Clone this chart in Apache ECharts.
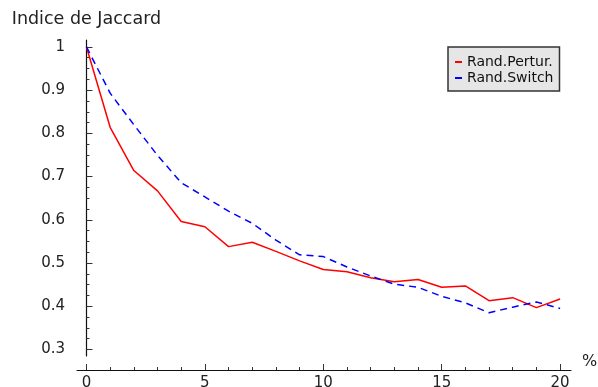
<!DOCTYPE html>
<html>
<head>
<meta charset="utf-8">
<script src="https://cdn.jsdelivr.net/npm/echarts@6/dist/echarts.min.js"></script>
<style>
  html, body { margin: 0; padding: 0; background: #fff; }
  #chart { width: 598px; height: 387px; }
</style>
</head>
<body>
<div id="chart"></div>
<script>
// Jaccard index versus perturbation percentage
const percents = [0,1,2,3,4,5,6,7,8,9,10,11,12,13,14,15,16,17,18,19,20];
const randPertur = [1.0,0.814,0.714,0.667,0.596,0.584,0.538,0.548,0.527,0.505,0.485,0.480,0.466,0.457,0.462,0.444,0.447,0.413,0.420,0.397,0.417];
const randSwitch = [1.0,0.893,0.820,0.749,0.686,0.653,0.620,0.592,0.553,0.519,0.515,0.491,0.470,0.451,0.444,0.423,0.408,0.385,0.398,0.410,0.395];

// Tick positions
const yMajor = [0.3,0.4,0.5,0.6,0.7,0.8,0.9,1.0];
const yMinor = [0.325,0.35,0.375,0.425,0.45,0.475,0.525,0.55,0.575,0.625,0.65,0.675,0.725,0.75,0.775,0.825,0.85,0.875,0.925,0.95,0.975];
const xMajor = [0,5,10,15,20];
const xMinor = [1,2,3,4,6,7,8,9,11,12,13,14,16,17,18,19];

const FONT = 'DejaVu Sans';
const Y_MIN = 0.285, Y_MAX = 1.016;
const X_MIN = -0.4, X_MAX = 20.46;

const chart = echarts.init(document.getElementById('chart'), null, { renderer: 'canvas' });

const axisLineStyle = { color: '#111', width: 1.2 };
const tickStyle = { color: '#333', width: 1 };

chart.setOption({
  animation: false,
  backgroundColor: '#fff',
  textStyle: { fontFamily: FONT },
  grid: { left: 77, right: 27, top: 40, bottom: 31, containLabel: false, outerBoundsMode: 'none' },
  legend: {
    orient: 'vertical',
    left: 448,
    top: 47,
    padding: [7, 6, 5, 7],
    backgroundColor: '#e6e6e6',
    borderColor: '#333',
    borderWidth: 1.5,
    borderRadius: 0,
    itemWidth: 7,
    itemHeight: 2,
    itemGap: 0,
    icon: 'rect',
    textStyle: { fontFamily: FONT, fontSize: 14, lineHeight: 16, color: '#111' },
    data: ['Rand.Pertur.', 'Rand.Switch']
  },
  xAxis: [
    {
      type: 'value', min: X_MIN, max: X_MAX, position: 'bottom', offset: 14,
      name: '%', nameLocation: 'end', nameGap: 11,
      nameTextStyle: { fontFamily: FONT, fontSize: 16, color: '#222', verticalAlign: 'bottom', lineHeight: 16 },
      axisLine: { onZero: false, lineStyle: axisLineStyle },
      axisTick: { inside: true, length: 6, customValues: xMajor, lineStyle: tickStyle },
      axisLabel: { customValues: xMajor, margin: 6, fontFamily: FONT, fontSize: 15, color: '#222' },
      splitLine: { show: false }
    },
    {
      type: 'value', min: X_MIN, max: X_MAX, position: 'bottom', offset: 14,
      axisLine: { show: false, onZero: false },
      axisTick: { inside: true, length: 3, customValues: xMinor, lineStyle: tickStyle },
      axisLabel: { show: false },
      splitLine: { show: false }
    }
  ],
  yAxis: [
    {
      type: 'value', min: Y_MIN, max: Y_MAX, position: 'left',
      name: 'Indice de Jaccard', nameLocation: 'end', nameGap: 11,
      nameTextStyle: { fontFamily: FONT, fontSize: 17.5, color: '#222', lineHeight: 20 },
      axisLine: { onZero: true, lineStyle: axisLineStyle },
      axisTick: { inside: true, length: 6, customValues: yMajor, lineStyle: tickStyle },
      axisLabel: { customValues: yMajor, margin: 12, fontFamily: FONT, fontSize: 15, color: '#222' },
      splitLine: { show: false }
    },
    {
      type: 'value', min: Y_MIN, max: Y_MAX, position: 'left',
      axisLine: { show: false, onZero: true },
      axisTick: { inside: true, length: 3, customValues: yMinor, lineStyle: tickStyle },
      axisLabel: { show: false },
      splitLine: { show: false }
    }
  ],
  series: [
    {
      name: 'Rand.Pertur.', type: 'line', xAxisIndex: 0, yAxisIndex: 0,
      data: percents.map((p, i) => [p, randPertur[i]]),
      showSymbol: false, color: '#ff0000',
      lineStyle: { color: '#ff0000', width: 1.5 }
    },
    {
      name: 'Rand.Switch', type: 'line', xAxisIndex: 0, yAxisIndex: 0,
      data: percents.map((p, i) => [p, randSwitch[i]]),
      showSymbol: false, color: '#0000ff',
      lineStyle: { color: '#0000ff', width: 1.5, type: [7, 5] }
    }
  ]
});
</script>
</body>
</html>
